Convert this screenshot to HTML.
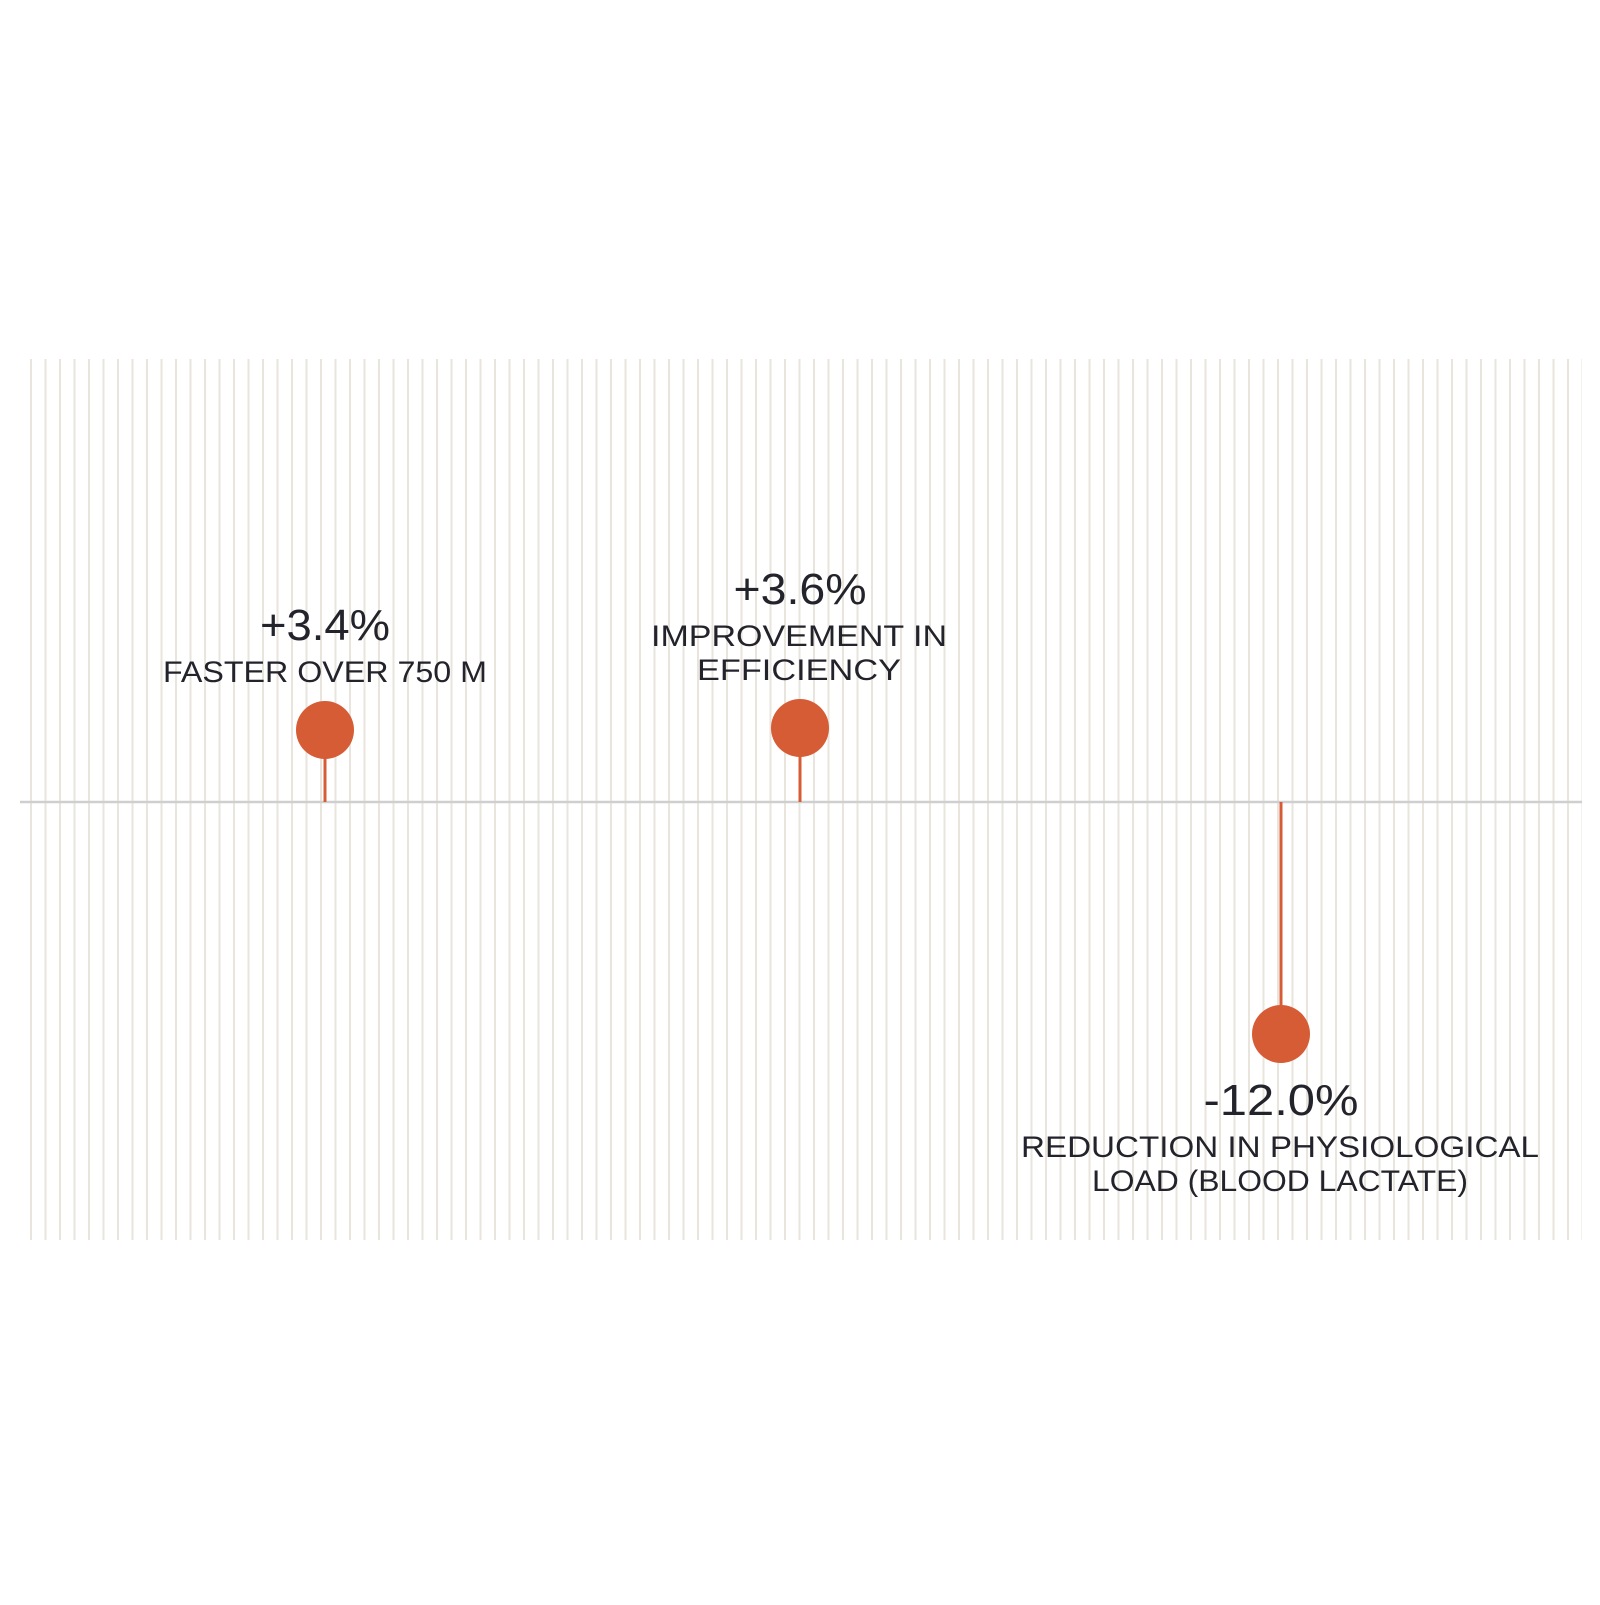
<!DOCTYPE html>
<html><head><meta charset="utf-8"><style>html,body{margin:0;padding:0;background:#fff}</style></head>
<body>
<svg width="1600" height="1600" viewBox="0 0 1600 1600" xmlns="http://www.w3.org/2000/svg">
<defs>
<pattern id="g" x="30" y="0" width="14.5" height="10" patternUnits="userSpaceOnUse">
<rect x="0" y="0" width="2" height="10" fill="#e9e5dd"/>
</pattern>
</defs>
<rect x="0" y="0" width="1600" height="1600" fill="#fff"/>
<rect x="30" y="359" width="1552" height="881" fill="url(#g)"/>
<line x1="20" y1="802" x2="1582" y2="802" stroke="#cfcfcf" stroke-width="2.5"/>
<g stroke="#d65c36" stroke-width="3">
<line x1="325" y1="740" x2="325" y2="802"/>
<line x1="800" y1="740" x2="800" y2="802"/>
<line x1="1281" y1="802" x2="1281" y2="1030"/>
</g>
<g fill="#d65c36">
<circle cx="325" cy="730" r="29"/>
<circle cx="800" cy="728" r="29"/>
<circle cx="1281" cy="1034" r="29"/>
</g>
<g font-family="Liberation Sans, sans-serif" fill="#23232b" text-anchor="middle">
<text x="325" y="640" font-size="44" textLength="130" lengthAdjust="spacingAndGlyphs">+3.4%</text>
<text x="325" y="682" font-size="30" textLength="324" lengthAdjust="spacingAndGlyphs">FASTER OVER 750 M</text>
<text x="800" y="604" font-size="44" textLength="133" lengthAdjust="spacingAndGlyphs">+3.6%</text>
<text x="799" y="646" font-size="30" textLength="296" lengthAdjust="spacingAndGlyphs">IMPROVEMENT IN</text>
<text x="799" y="680" font-size="30" textLength="204" lengthAdjust="spacingAndGlyphs">EFFICIENCY</text>
<text x="1281" y="1115" font-size="44" textLength="155" lengthAdjust="spacingAndGlyphs">-12.0%</text>
<text x="1280" y="1157" font-size="30" textLength="518" lengthAdjust="spacingAndGlyphs">REDUCTION IN PHYSIOLOGICAL</text>
<text x="1280" y="1191" font-size="30" textLength="376" lengthAdjust="spacingAndGlyphs">LOAD (BLOOD LACTATE)</text>
</g>
</svg>
</body></html>
